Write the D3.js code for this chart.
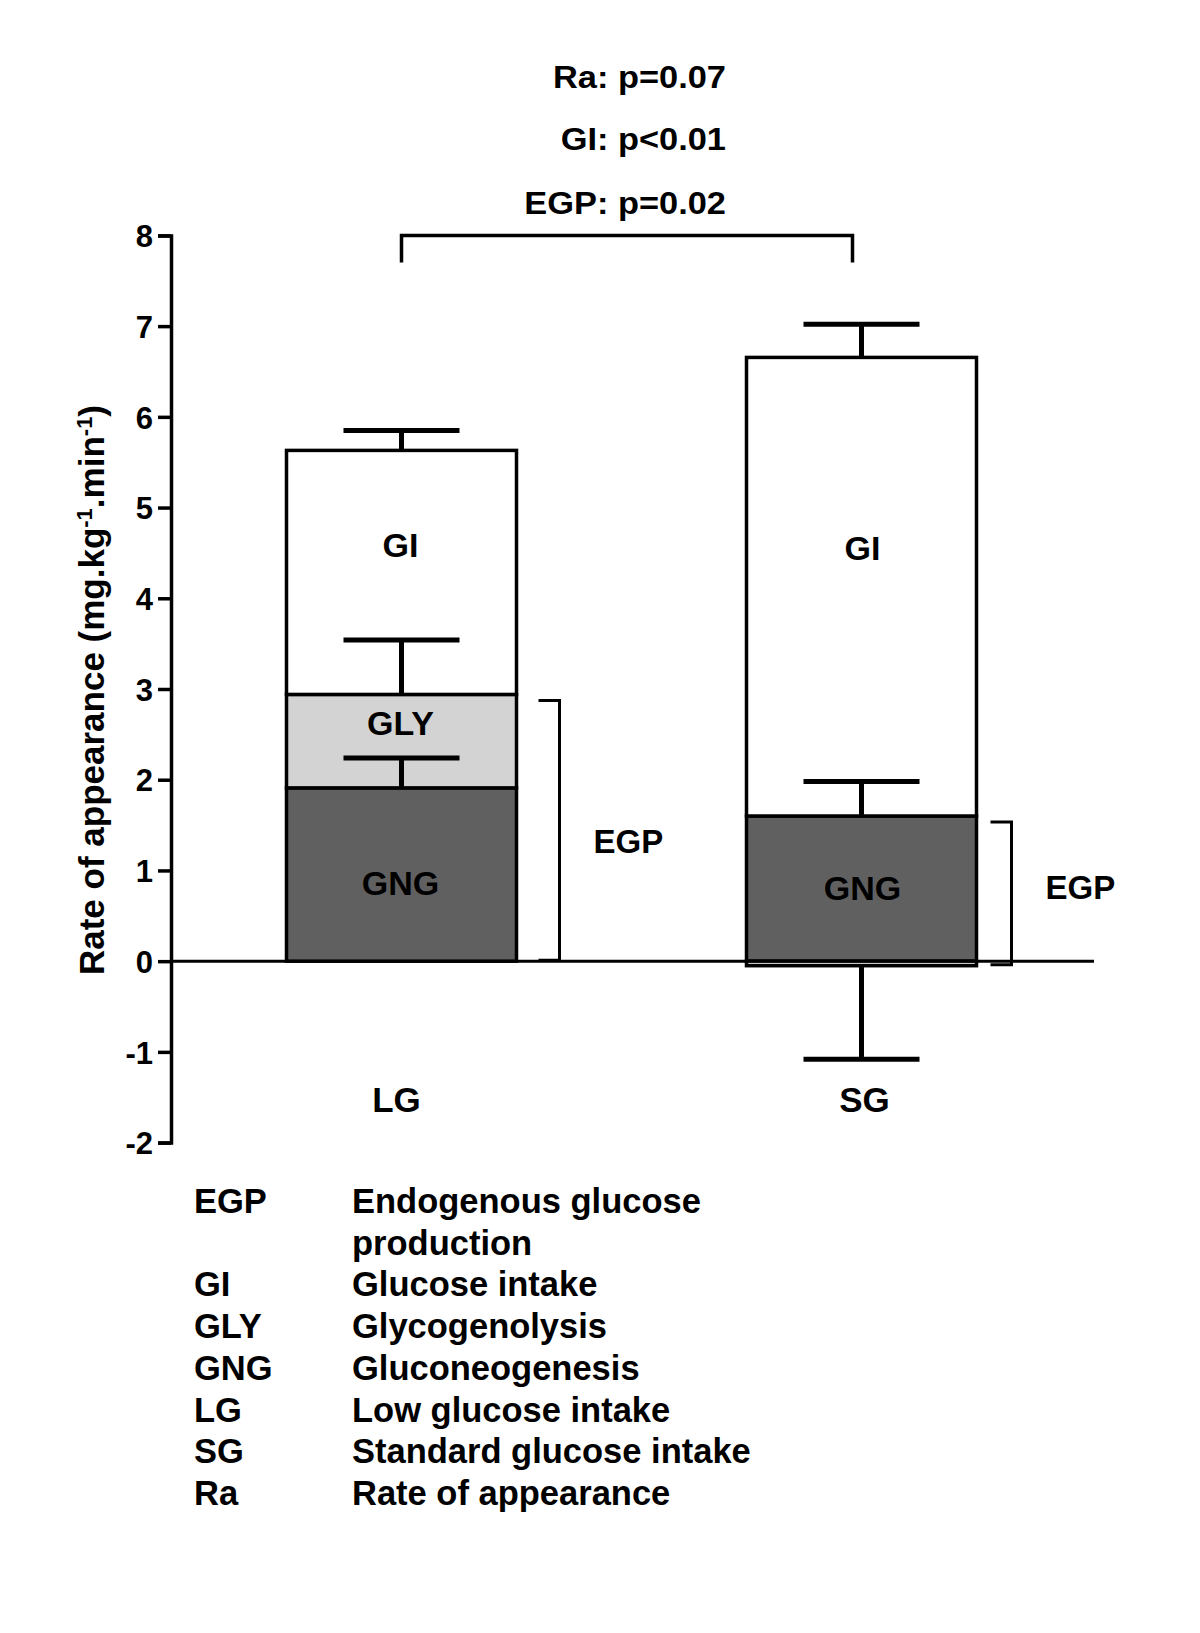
<!DOCTYPE html>
<html>
<head>
<meta charset="utf-8">
<script src="https://cdn.jsdelivr.net/npm/d3@7"></script>
<style>
  body { margin: 0; background: #fff; }
  text { font-family: "Liberation Sans", Arial, sans-serif; font-weight: bold; fill: #000; }
</style>
</head>
<body>
<svg class="chart"></svg>
<script>
// data (mg.kg-1.min-1)
const groups = ['LG', 'SG'];
const gng = [1.91, 1.60];
const gngSem = [0.33, 0.38];
const gly = [1.03, -0.05];
const glySem = [0.60, 1.03];
const gi = [2.69, 5.055];
const giSem = [0.22, 0.365];
const yTicks = [-2, -1, 0, 1, 2, 3, 4, 5, 6, 7, 8];
const stats = ['Ra: p=0.07', 'GI: p<0.01', 'EGP: p=0.02'];
const legendAbbr = ['EGP', '', 'GI', 'GLY', 'GNG', 'LG', 'SG', 'Ra'];
const legendText = ['Endogenous glucose', 'production', 'Glucose intake', 'Glycogenolysis',
  'Gluconeogenesis', 'Low glucose intake', 'Standard glucose intake', 'Rate of appearance'];

const width = 1200, height = 1633;
const svg = d3.select('.chart').attr('width', width).attr('height', height);

const y = d3.scaleLinear().domain([-2, 8]).range([1142.6, 235.4]);
const x = d3.scaleBand().domain(groups).range([171.5, 1091.5]).paddingInner(0.5).paddingOuter(0.25);
const cx = g => x(g) + x.bandwidth() / 2;

// build stacked segments: positives stack up from 0, negatives down from 0
const series = [
  {key: 'GNG', vals: gng, sem: gngSem, fill: '#606060'},
  {key: 'GLY', vals: gly, sem: glySem, fill: '#d3d3d3'},
  {key: 'GI', vals: gi, sem: giSem, fill: '#ffffff'}
];
const segs = [];
groups.forEach((g, i) => {
  let pos = 0, neg = 0;
  series.forEach(s => {
    const v = s.vals[i];
    let y0, y1;
    if (v >= 0) { y0 = pos; y1 = pos + v; pos = y1; }
    else { y0 = neg; y1 = neg + v; neg = y1; }
    segs.push({g, key: s.key, y0, y1, sem: s.sem[i], fill: s.fill});
  });
});

// zero line
svg.append('line')
  .attr('x1', 171).attr('x2', 1094)
  .attr('y1', y(0)).attr('y2', y(0))
  .attr('stroke', '#000').attr('stroke-width', 3);

// bars
svg.append('g').selectAll('rect')
  .data(segs.filter(d => d.y1 !== d.y0))
  .enter().append('rect')
  .attr('x', d => x(d.g))
  .attr('width', x.bandwidth())
  .attr('y', d => y(Math.max(d.y0, d.y1)))
  .attr('height', d => Math.abs(y(d.y0) - y(d.y1)))
  .attr('fill', d => d.fill)
  .attr('stroke', '#000')
  .attr('stroke-width', 3.5);

// error bars (drawn in the direction of the segment)
const err = svg.append('g').attr('stroke', '#000').attr('stroke-width', 5);
segs.forEach(d => {
  const dir = d.y1 >= d.y0 ? 1 : -1;
  const tip = d.y1 + dir * d.sem;
  err.append('line')
    .attr('x1', cx(d.g)).attr('x2', cx(d.g))
    .attr('y1', y(d.y1)).attr('y2', y(tip));
  err.append('line')
    .attr('x1', cx(d.g) - 58).attr('x2', cx(d.g) + 58)
    .attr('y1', y(tip)).attr('y2', y(tip));
});

// segment labels
const segLabels = [
  {g: 'LG', t: 'GI', at: 4.46},
  {g: 'LG', t: 'GLY', at: 2.49},
  {g: 'LG', t: 'GNG', at: 0.73},
  {g: 'SG', t: 'GI', at: 4.42},
  {g: 'SG', t: 'GNG', at: 0.67}
];
svg.append('g').selectAll('text')
  .data(segLabels)
  .enter().append('text')
  .attr('x', d => cx(d.g) + (d.g === 'LG' ? -1 : 1))
  .attr('y', d => y(d.at))
  .attr('text-anchor', 'middle')
  .style('font-size', '34px')
  .text(d => d.t);

// EGP brackets
const egpOffset = {LG: [22, 43], SG: [14, 35]};
groups.forEach((g, i) => {
  const top = d3.max(segs.filter(d => d.g === g && d.key !== 'GI'), d => Math.max(d.y0, d.y1));
  const bot = d3.min(segs.filter(d => d.g === g && d.key !== 'GI'), d => Math.min(d.y0, d.y1));
  const xr = x(g) + x.bandwidth();
  const o = egpOffset[g];
  svg.append('path')
    .attr('d', `M${xr + o[0]},${y(top) + 6}H${xr + o[1]}V${y(bot) - 1}H${xr + o[0]}`)
    .attr('fill', 'none').attr('stroke', '#000').attr('stroke-width', 3);
  svg.append('text')
    .attr('x', xr + o[1] + 34)
    .attr('y', g === 'LG' ? y(1.19) : y(0.69))
    .style('font-size', '33px')
    .text('EGP');
});

// y axis
const yAxis = d3.axisLeft(y).tickValues(yTicks).tickFormat(d => String(d))
  .tickSize(13).tickSizeOuter(13).tickPadding(5);
const ax = svg.append('g')
  .attr('transform', 'translate(171,0)')
  .call(yAxis)
  .attr('font-size', 31)
  .attr('font-family', null)
  .attr('font-weight', 'bold');
ax.selectAll('path, line').attr('stroke', '#000').attr('stroke-width', 3.5);
ax.selectAll('.tick text')
  .attr('x', -18)
  .attr('dy', '0.36em')
  .attr('fill', '#000');

// y axis title
const yt = svg.append('text')
  .attr('transform', 'translate(104,690) rotate(-90)')
  .attr('text-anchor', 'middle')
  .style('font-size', '35px');
yt.append('tspan').text('Rate of appearance (mg.kg');
yt.append('tspan').attr('baseline-shift', '55%').style('font-size', '22px').text('-1');
yt.append('tspan').text('.min');
yt.append('tspan').attr('baseline-shift', '55%').style('font-size', '22px').text('-1');
yt.append('tspan').text(')');

// group labels
const groupShift = {LG: -5, SG: 3};
svg.append('g').selectAll('text')
  .data(groups)
  .enter().append('text')
  .attr('x', d => cx(d) + groupShift[d])
  .attr('y', 1112)
  .attr('text-anchor', 'middle')
  .style('font-size', '35px')
  .text(d => d);

// significance bracket and stats
svg.append('path')
  .attr('d', `M${cx('LG')},${y(7.7)}V${y(8)}H${cx('SG') - 9}V${y(7.7)}`)
  .attr('fill', 'none').attr('stroke', '#000').attr('stroke-width', 3.5);
const statY = [88, 150, 214];
svg.append('g').selectAll('text')
  .data(stats)
  .enter().append('text')
  .attr('transform', (d, i) => `translate(726,${statY[i]}) scale(1.11,1)`)
  .attr('text-anchor', 'end')
  .style('font-size', '31px')
  .text(d => d);

// glossary
const leg = svg.append('g');
legendAbbr.forEach((a, i) => {
  const ly = 1213 + i * 41.7;
  leg.append('text').attr('x', 194).attr('y', ly).style('font-size', '34.5px').text(a);
  leg.append('text').attr('x', 352).attr('y', ly).style('font-size', '34.5px').text(legendText[i]);
});
</script>
</body>
</html>
